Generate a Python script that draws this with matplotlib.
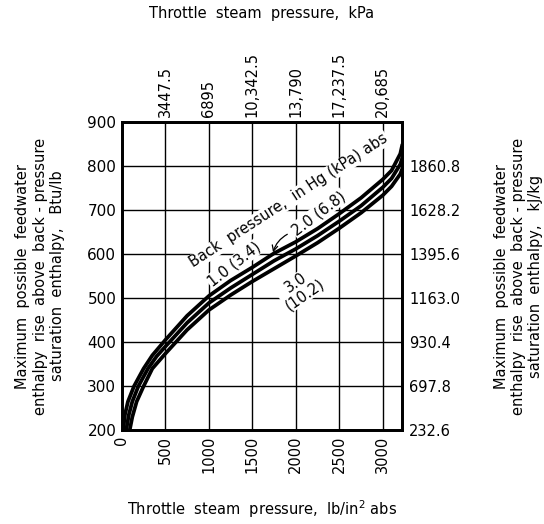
import matplotlib.pyplot as plt

plt.rcParams['font.family'] = ['DejaVu Sans']

# throttle pressure (lb/in2 abs) and max enthalpy rise (Btu/lb) for each back pressure
psi_1 = [15, 35, 70, 140, 250, 350, 500, 750, 1000, 1250, 1500, 1750, 2000, 2250, 2500, 2750, 3000, 3100, 3200, 3225]
btu_1 = [200, 235, 265, 300, 340, 370, 405, 460, 505, 540, 570, 602, 628, 658, 692, 728, 770, 790, 828, 850]

psi_2 = [50, 80, 120, 190, 300, 400, 500, 750, 1000, 1250, 1500, 1750, 2000, 2250, 2500, 2750, 3000, 3100, 3200, 3225]
btu_2 = [200, 235, 265, 300, 340, 368, 390, 444, 489, 523, 554, 585, 612, 642, 675, 710, 752, 772, 804, 820]

psi_3 = [90, 120, 170, 250, 350, 500, 750, 1000, 1250, 1500, 1750, 2000, 2250, 2500, 2750, 3000, 3100, 3200, 3225]
btu_3 = [200, 230, 265, 300, 340, 374, 428, 473, 507, 538, 567, 596, 626, 659, 694, 734, 754, 782, 795]

psi_ticks = [0, 500, 1000, 1500, 2000, 2500, 3000]
kpa_ticks = [500, 1000, 1500, 2000, 2500, 3000]
kpa_labels = ['3447.5', '6895', '10,342.5', '13,790', '17,237.5', '20,685']
btu_ticks = [200, 300, 400, 500, 600, 700, 800, 900]
kj_ticks = [200, 300, 400, 500, 600, 700, 800]
kj_labels = ['232.6', '697.8', '930.4', '1163.0', '1395.6', '1628.2', '1860.8']

fig = plt.figure(figsize=(5.44, 5.24), dpi=100)
ax = fig.add_axes([0.224, 0.179, 0.515, 0.588])

for xs, ys in [(psi_1, btu_1), (psi_2, btu_2), (psi_3, btu_3)]:
    ax.plot(xs, ys, color='black', lw=2.7, zorder=5, solid_capstyle='butt')

ax.set_xlim(0, 3220)
ax.set_ylim(200, 900)
ax.set_xticks(psi_ticks)
ax.set_xticklabels([str(v) for v in psi_ticks], rotation=90, fontsize=10.5)
ax.set_yticks(btu_ticks)
ax.set_yticklabels([str(v) for v in btu_ticks], fontsize=11)
ax.tick_params(length=0, pad=4)
ax.grid(True, color='black', lw=1.0)
ax.set_axisbelow(True)
for s in ax.spines.values():
    s.set_linewidth(1.8)

ax.set_ylabel('Maximum  possible  feedwater\nenthalpy  rise  above  back - pressure\nsaturation  enthalpy,   Btu/lb',
              fontsize=10.5, linespacing=1.2, labelpad=16)
ax.set_xlabel('Throttle  steam  pressure,  lb/in$^2$ abs', fontsize=10.5, labelpad=18)

top = ax.twiny()
top.set_xlim(ax.get_xlim())
top.set_xticks(kpa_ticks)
top.set_xticklabels(kpa_labels, rotation=90, fontsize=10.5)
top.tick_params(length=0, pad=4)
top.set_xlabel('Throttle  steam  pressure,  kPa', fontsize=10.5, labelpad=24)

right = ax.twinx()
right.set_ylim(ax.get_ylim())
right.set_yticks(kj_ticks)
right.set_yticklabels(kj_labels, fontsize=10.5)
right.tick_params(length=0, pad=5)
right.set_ylabel('Maximum  possible  feedwater\nenthalpy  rise  above  back - pressure\nsaturation  enthalpy,   kJ/kg',
                 fontsize=10.5, linespacing=1.2, labelpad=24)
for s in list(top.spines.values()) + list(right.spines.values()):
    s.set_linewidth(1.8)

box = dict(facecolor='white', edgecolor='none', pad=0.5)
ax.text(1920, 722, 'Back  pressure,  in Hg (kPa) abs', rotation=33, fontsize=10.5,
        ha='center', va='center', bbox=box, zorder=3)
ax.text(1290, 577, '1.0 (3.4)', rotation=38, fontsize=10.5,
        ha='center', va='center', bbox=box, zorder=3)
ax.text(2260, 693, '2.0 (6.8)', rotation=37, fontsize=10.5,
        ha='center', va='center', bbox=box, zorder=3)
ax.text(2050, 522, '3.0\n(10.2)', rotation=35, fontsize=10.5, linespacing=0.95,
        ha='center', va='center', bbox=box, zorder=3)
ax.annotate('', xy=(1730, 598), xytext=(1930, 648),
            arrowprops=dict(arrowstyle='->', color='black', lw=0.9,
                            connectionstyle='arc3,rad=0.25'), zorder=6)

fig.savefig('out.png', dpi=100)
